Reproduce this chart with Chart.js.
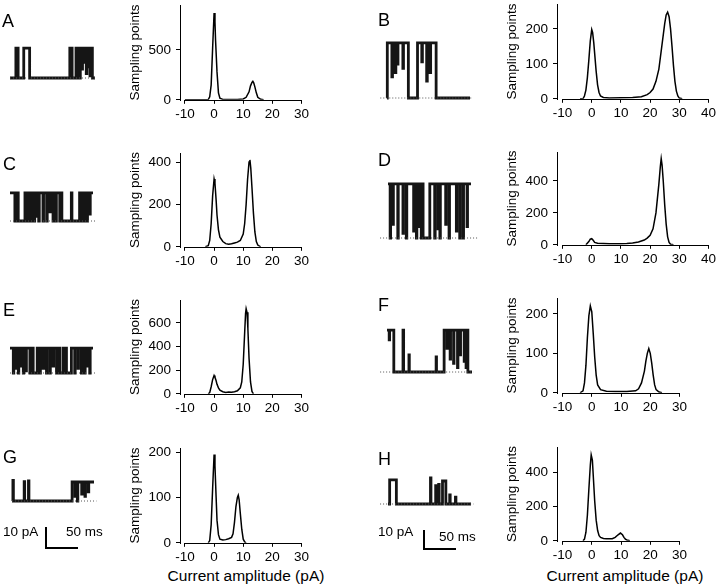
<!DOCTYPE html>
<html>
<head>
<meta charset="utf-8">
<script src="https://cdn.jsdelivr.net/npm/chart.js@4.4.1/dist/chart.umd.min.js"></script>
<style>
  body { margin: 0; background: #fff; }
  #fig { position: relative; width: 720px; height: 584px; overflow: hidden;
         font-family: "Liberation Sans", Arial, sans-serif; color: #000; background: #fff; }
  .box { position: absolute; }
  .lab { position: absolute; font-size: 18px; line-height: 18px; }
  .txt { position: absolute; font-size: 13.5px; line-height: 14px; white-space: nowrap; }
  .xt { position: absolute; font-size: 15.5px; line-height: 16px; white-space: nowrap; transform: translateX(-50%); }
  .bar { position: absolute; background: #000; }
</style>
</head>
<body>
<div id="fig"></div>
<script>
// ---- amplitude histograms: current (pA) vs sampling points ----
const ampA = [-10, -3, -2, -1.5, -1, -0.5, 0, 0.3, 0.5, 1, 1.5, 2, 3, 5, 8, 10, 11, 12, 12.5, 13, 13.3, 13.6, 14, 14.5, 15, 16, 17];
const cntA = [0, 0, 2, 30, 150, 520, 870, 780, 600, 280, 70, 15, 4, 3, 4, 8, 25, 80, 140, 175, 185, 170, 130, 70, 25, 5, 0];

const ampB = [-4, -3, -2.5, -2, -1.5, -1, -0.5, 0, 0.3, 0.7, 1, 1.5, 2, 2.5, 3, 4, 6, 10, 14, 17, 19, 20, 21, 22, 23, 24, 25, 25.5, 26, 26.5, 27, 27.5, 28, 28.5, 29, 29.5, 30, 31];
const cntB = [0, 0, 8, 25, 60, 110, 165, 198, 190, 160, 130, 80, 40, 18, 8, 4, 2, 3, 4, 6, 12, 18, 28, 50, 85, 150, 215, 240, 248, 235, 200, 150, 95, 50, 22, 8, 2, 0];

const ampC = [-3, -2, -1.5, -1, -0.5, 0, 0.3, 0.7, 1, 1.5, 2, 3, 4, 5, 6, 7, 8, 9, 10, 10.5, 11, 11.5, 12, 12.3, 12.6, 13, 13.5, 14, 14.5, 15, 16];
const cntC = [0, 5, 30, 110, 240, 320, 300, 220, 150, 80, 45, 25, 15, 12, 14, 18, 22, 30, 60, 110, 200, 320, 400, 410, 370, 280, 160, 70, 25, 8, 0];

const ampD = [-2, -1, -0.5, 0, 0.5, 1, 2, 4, 6, 8, 10, 12, 14, 16, 18, 19, 20, 21, 22, 23, 23.5, 23.8, 24.1, 24.5, 25, 25.5, 26, 26.5, 27, 28];
const cntD = [0, 20, 35, 38, 28, 15, 10, 8, 6, 6, 6, 8, 12, 18, 30, 42, 60, 100, 200, 380, 490, 540, 500, 400, 250, 130, 50, 15, 3, 0];

const ampE = [-2, -1.5, -1, -0.5, 0, 0.3, 0.7, 1, 1.5, 2, 3, 4, 5, 6, 7, 8, 9, 9.5, 10, 10.5, 10.8, 11, 11.3, 11.6, 12, 12.5, 13, 13.5];
const cntE = [0, 10, 60, 120, 155, 140, 110, 80, 50, 30, 18, 12, 15, 14, 18, 25, 50, 100, 250, 520, 680, 720, 690, 550, 300, 100, 20, 0];

const ampF = [-4, -3, -2.5, -2, -1.5, -1, -0.5, 0, 0.5, 1, 1.5, 2, 3, 5, 8, 12, 15, 16, 17, 18, 18.5, 19, 19.5, 20, 20.5, 21, 21.5, 22, 23, 24];
const cntF = [0, 5, 25, 70, 140, 195, 220, 205, 150, 90, 45, 20, 8, 4, 3, 3, 5, 10, 25, 55, 80, 100, 112, 100, 75, 45, 20, 8, 2, 0];

const ampG = [-2, -1.5, -1, -0.5, 0, 0.3, 0.7, 1, 1.5, 2, 3, 4, 5, 6, 6.5, 7, 7.5, 8, 8.3, 8.6, 9, 9.5, 10, 10.5, 11];
const cntG = [0, 5, 40, 120, 195, 170, 100, 50, 18, 8, 6, 7, 9, 12, 20, 45, 80, 100, 105, 95, 65, 30, 8, 2, 0];

const ampH = [-3, -2.5, -2, -1.5, -1, -0.5, -0.2, 0.2, 0.5, 1, 1.5, 2, 2.5, 3, 4, 5, 6, 7, 8, 9, 9.8, 10.5, 11, 11.5, 12, 13];
const cntH = [0, 10, 50, 150, 300, 440, 500, 470, 380, 230, 120, 60, 30, 20, 14, 12, 12, 12, 20, 35, 45, 35, 20, 10, 5, 0];

// tick values
const xTicks30 = [-10, 0, 10, 20, 30];
const xTicks40 = [-10, 0, 10, 20, 30, 40];
const yTicksA = [0, 500];
const yTicksB = [0, 100, 200];
const yTicksC = [0, 200, 400];
const yTicksD = [0, 200, 400];
const yTicksE = [0, 200, 400, 600];
const yTicksF = [0, 100, 200];
const yTicksG = [0, 100, 200];
const yTicksH = [0, 200, 400];

// ---- single-channel records: [time (ms), current (pA)], level holds until next point ----
const traceA = [[0, 0], [9.4, 13.5], [13, 0], [22, 13.5], [31.4, 0], [95.7, 13.5], [99.4, 0], [105.6, 13.5], [109.8, 0],
  [112.5, 13.5], [115, 4], [116, 13.5], [118.5, 7], [119.5, 13.5], [122, 2], [123, 13.5], [125, 5], [126, 13.5],
  [128, 1], [129, 13.5], [131.8, 0], [136, 0]];
const traceB = [[0, 0], [0.5, 26], [8, 10], [9, 26], [13.5, 12], [14.5, 26], [17, 16], [18, 26], [26, 14], [27, 26],
  [35, 0], [50, 26], [57, 17], [58, 26], [65, 8], [66, 26], [70.5, 12], [71.5, 26], [80.5, 0], [136, 0]];
const traceC = [[0, 12.3], [8, 0], [9.5, 12.3], [13.5, 0], [24.5, 12.3], [27, 0], [28, 12.3], [31.5, 0], [32.5, 12.3],
  [35.5, 0], [36.5, 12.3], [39.5, 0], [40.5, 12.3], [43.5, 2], [44.5, 12.3], [47, 0], [48, 12.3], [54, 0], [55, 12.3],
  [60, 0], [61, 12.3], [65, 4], [66, 12.3], [70.5, 0], [71.5, 12.3], [75, 0], [76, 12.3], [81.5, 0], [84, 12.3],
  [85, 0], [100.5, 12.3], [101.5, 0], [114, 12.3], [117, 0], [118, 12.3], [122, 0], [123, 12.3], [126, 0],
  [127, 12.3], [130.5, 3], [131.5, 12.3], [136, 12.3]];
const traceD = [[0, 23.8], [3.5, 0], [4.3, 23.8], [8, 6], [8.8, 23.8], [16, 0], [16.8, 23.8], [24.5, 2], [25.3, 23.8],
  [30, 0], [30.8, 23.8], [42, 3], [42.8, 23.8], [46.5, 0], [47.3, 23.8], [51, 5], [51.8, 23.8], [54.5, 0], [55.3, 23.8],
  [57.5, 0], [68.5, 23.8], [76.5, 0], [77.3, 23.8], [82, 4], [82.8, 23.8], [85, 0], [85.8, 23.8], [94.5, 6], [95.3, 23.8],
  [100, 0], [100.8, 23.8], [112, 3], [112.8, 23.8], [117.5, 0], [118.3, 23.8], [123, 0], [123.8, 23.8], [129.5, 5],
  [130.3, 23.8], [136, 23.8]];
const traceE = [[0, 11], [5.4, 0], [6.2, 11], [9.8, 2], [10.6, 11], [13.6, 0], [14.4, 11], [18, 3], [18.8, 11],
  [21.8, 0], [22.6, 11], [26.1, 1], [26.9, 11], [32.6, 0], [33.4, 11], [38, 0], [44.6, 11], [49, 0], [49.8, 11],
  [54.4, 2], [55.2, 11], [59.8, 0], [60.6, 11], [65.3, 0], [66.1, 11], [70.7, 3], [71.5, 11], [76.2, 0], [77, 11],
  [81.6, 0], [87, 11], [89.8, 0], [90.6, 11], [92.5, 0], [100.6, 11], [106, 0], [106.8, 11], [111.5, 2], [112.3, 11],
  [117, 0], [117.8, 11], [122.4, 0], [123.2, 11], [126.2, 3], [127, 11], [130.6, 0], [131.4, 11], [136, 11]];
const traceF = [[0, 19.5], [3.5, 15], [4.2, 19.5], [10.9, 0], [25.6, 19.5], [26.6, 0], [35.1, 8], [35.7, 0], [78.6, 7],
  [79.2, 0], [91.4, 19.5], [96, 11], [96.7, 19.5], [101, 6], [101.7, 19.5], [106.5, 4], [107.2, 19.5], [112.8, 2],
  [113.5, 19.5], [117, 8], [117.7, 19.5], [123.5, 5], [124.2, 19.5], [126.5, 2], [127.2, 19.5], [129.4, 0], [136, 0]];
const traceG = [[0, 0], [1.5, 9], [2.3, 0], [20.2, 8.5], [21, 0], [27.3, 8.8], [28.1, 0], [99.7, 8.3], [104.5, 2],
  [105.3, 8.3], [108.4, 0], [109.2, 8.3], [115.6, 3], [116.4, 8.3], [121, 2], [121.8, 8.3], [126.5, 4], [127.3, 8.3],
  [136, 8.3]];
const traceH = [[0, 0], [2.7, 10.5], [13.7, 0], [69.6, 11.4], [70.4, 0], [78.1, 8], [78.9, 0], [83, 8.5], [83.8, 0],
  [89.3, 10], [94.8, 0], [101.1, 4], [101.9, 0], [110.5, 3], [111.3, 0], [136, 0]];

const panels = ['A', 'B', 'C', 'D', 'E', 'F', 'G', 'H'];
const hists = { A: [ampA, cntA], B: [ampB, cntB], C: [ampC, cntC], D: [ampD, cntD],
                E: [ampE, cntE], F: [ampF, cntF], G: [ampG, cntG], H: [ampH, cntH] };
const histTicks = { A: [xTicks30, yTicksA], B: [xTicks40, yTicksB], C: [xTicks30, yTicksC], D: [xTicks40, yTicksD],
                    E: [xTicks30, yTicksE], F: [xTicks30, yTicksF], G: [xTicks30, yTicksG], H: [xTicks30, yTicksH] };
const traces = { A: traceA, B: traceB, C: traceC, D: traceD, E: traceE, F: traceF, G: traceG, H: traceH };

// placement (pixels) of each histogram plot area and each record
const histBox = {
  A: { left: 180, top: 5,   bottom: 100, right: 301, xmin: -11.7, xmax: 30, ymax: 950 },
  B: { left: 557, top: 4,   bottom: 99,  right: 708, xmin: -11.9, xmax: 40, ymax: 271 },
  C: { left: 180, top: 153, bottom: 247, right: 301, xmin: -11.7, xmax: 30, ymax: 442 },
  D: { left: 557, top: 152, bottom: 245, right: 708, xmin: -11.9, xmax: 40, ymax: 581 },
  E: { left: 180, top: 300, bottom: 394, right: 301, xmin: -11.7, xmax: 30, ymax: 793 },
  F: { left: 557, top: 298, bottom: 393, right: 679, xmin: -11.9, xmax: 30, ymax: 240 },
  G: { left: 180, top: 448, bottom: 543, right: 301, xmin: -11.7, xmax: 30, ymax: 209 },
  H: { left: 557, top: 447, bottom: 541, right: 679, xmin: -11.9, xmax: 30, ymax: 545 }
};
const traceBox = {
  A: { x0: 10,  x1: 95,  base: 78,  k: 2.22, dotFrom: 0,   dotTo: 139 },
  B: { x0: 387, x1: 470, base: 98,  k: 2.12, dotFrom: -11, dotTo: 138 },
  C: { x0: 10,  x1: 93,  base: 221, k: 2.28, dotFrom: 0,   dotTo: 142 },
  D: { x0: 388, x1: 471, base: 238, k: 2.27, dotFrom: -13, dotTo: 147 },
  E: { x0: 10,  x1: 93,  base: 373, k: 2.27, dotFrom: 0,   dotTo: 142 },
  F: { x0: 387, x1: 472, base: 372, k: 2.15, dotFrom: -11, dotTo: 138 },
  G: { x0: 12,  x1: 94,  base: 501, k: 2.29, dotFrom: 0,   dotTo: 140 },
  H: { x0: 388, x1: 471, base: 504, k: 2.3,  dotFrom: -13, dotTo: 140 }
};
const letterPos = { A: [2, 12], B: [378, 11], C: [3, 155], D: [378, 151], E: [3, 301], F: [378, 296], G: [3, 448], H: [378, 450] };

Chart.defaults.font.family = '"Liberation Sans", Arial, sans-serif';
Chart.defaults.font.size = 13.5;
Chart.defaults.color = '#000';

const fig = document.getElementById('fig');

// axis lines drawn apart from each other, like the original figure
const axisLines = {
  id: 'axisLines',
  afterDraw(chart) {
    const { ctx, scales: { x, y } } = chart;
    const xt = x.ticks;
    const xl = Math.round(x.getPixelForValue(xt[0].value));
    const xr = Math.round(x.getPixelForValue(xt[xt.length - 1].value));
    const yb = Math.round(y.getPixelForValue(0)) + 0.5;
    const yl = Math.round(chart.chartArea.left) + 0.5;
    ctx.save();
    ctx.strokeStyle = '#000';
    ctx.lineWidth = 1;
    ctx.beginPath();
    ctx.moveTo(yl, Math.round(chart.chartArea.top));
    ctx.lineTo(yl, yb + 0.5);
    ctx.moveTo(xl, yb);
    ctx.lineTo(xr + 1, yb);
    ctx.stroke();
    ctx.restore();
  }
};

const setTicks = list => scale => { scale.ticks = list.map(v => ({ value: v })); };

function histConfig(p, amp, cnt, tk) {
  return {
    type: 'line',
    data: {
      datasets: [{
        data: amp.map((a, i) => ({ x: a, y: cnt[i] })),
        borderColor: '#000',
        borderWidth: 1.5,
        pointRadius: 0,
        tension: 0
      }]
    },
    options: {
      responsive: false,
      animation: false,
      events: [],
      layout: { padding: 0 },
      plugins: { legend: { display: false }, tooltip: { enabled: false } },
      scales: {
        x: {
          type: 'linear', min: p.xmin, max: p.xmax,
          border: { display: false },
          grid: { drawOnChartArea: false, color: '#000', tickLength: 4 },
          ticks: { maxRotation: 0, padding: 2 },
          afterBuildTicks: setTicks(tk[0])
        },
        y: {
          min: 0, max: p.ymax,
          border: { display: false },
          grid: { drawOnChartArea: false, color: '#000', tickLength: 4 },
          ticks: { padding: 5 },
          afterBuildTicks: setTicks(tk[1]),
          title: { display: true, text: 'Sampling points', padding: 0 },
          afterFit(s) { s.width = 53; }
        }
      }
    },
    plugins: [axisLines]
  };
}

function mountHist(id) {
  const p = histBox[id];
  const [amp, cnt] = hists[id];
  const tk = histTicks[id];
  // first pass: find how much room the axes take around the plot area
  const probeBox = document.createElement('div');
  probeBox.className = 'box';
  probeBox.style.visibility = 'hidden';
  const probe = document.createElement('canvas');
  probe.width = 300; probe.height = 200;
  probeBox.appendChild(probe);
  fig.appendChild(probeBox);
  const pc = new Chart(probe, histConfig(p, amp, cnt, tk));
  const a = pc.chartArea;
  const gap = { l: a.left, t: a.top, r: 300 - a.right, b: 200 - a.bottom };
  pc.destroy();
  probeBox.remove();

  const box = document.createElement('div');
  box.className = 'box';
  const cv = document.createElement('canvas');
  cv.width = Math.round(gap.l + (p.right - p.left) + gap.r);
  cv.height = Math.round(gap.t + (p.bottom - p.top) + gap.b);
  box.style.left = Math.round(p.left - gap.l) + 'px';
  box.style.top = Math.round(p.top - gap.t) + 'px';
  box.appendChild(cv);
  fig.appendChild(box);
  new Chart(cv, histConfig(p, amp, cnt, tk));
}

function mountTrace(id) {
  const p = traceBox[id];
  const pairs = traces[id];
  const pad = 14, up = 62, down = 8;
  const box = document.createElement('div');
  box.className = 'box';
  box.style.left = (p.x0 - pad) + 'px';
  box.style.top = (p.base - up - pad) + 'px';
  const cv = document.createElement('canvas');
  cv.width = (p.x1 - p.x0) + 2 * pad;
  cv.height = up + down + 2 * pad;
  box.appendChild(cv);
  fig.appendChild(box);
  new Chart(cv, {
    type: 'line',
    data: {
      datasets: [
        {
          data: [{ x: p.dotFrom, y: 0 }, { x: p.dotTo, y: 0 }],
          borderColor: '#555', borderWidth: 1, borderDash: [1, 2], pointRadius: 0, clip: false
        },
        {
          data: pairs.map(d => ({ x: d[0], y: d[1] })),
          borderColor: '#151515', borderWidth: 2.8, pointRadius: 0, stepped: true, clip: false,
          borderJoinStyle: 'miter'
        }
      ]
    },
    options: {
      responsive: false, animation: false, events: [],
      layout: { padding: pad },
      plugins: { legend: { display: false }, tooltip: { enabled: false } },
      scales: {
        x: { type: 'linear', display: false, min: 0, max: 136 },
        y: { display: false, min: -down / p.k, max: up / p.k }
      }
    }
  });
}

function addEl(cls, text, left, top, w, h) {
  const d = document.createElement('div');
  d.className = cls;
  if (text) d.textContent = text;
  d.style.left = left + 'px';
  d.style.top = top + 'px';
  if (w) d.style.width = w + 'px';
  if (h) d.style.height = h + 'px';
  fig.appendChild(d);
}

panels.forEach(id => {
  mountTrace(id);
  mountHist(id);
  addEl('lab', id, letterPos[id][0], letterPos[id][1]);
});

// x axis titles of the bottom row
addEl('xt', 'Current amplitude (pA)', 246, 568);
addEl('xt', 'Current amplitude (pA)', 625, 568);

// scale bars under records G and H
addEl('txt', '10 pA', 3, 525);
addEl('txt', '50 ms', 66, 525);
addEl('bar', '', 45, 527, 1.5, 22);
addEl('bar', '', 45, 547, 33, 1.5);
addEl('txt', '10 pA', 378, 525);
addEl('txt', '50 ms', 439, 530);
addEl('bar', '', 423, 530, 1.5, 19);
addEl('bar', '', 423, 548, 33, 1.5);
</script>
</body>
</html>
